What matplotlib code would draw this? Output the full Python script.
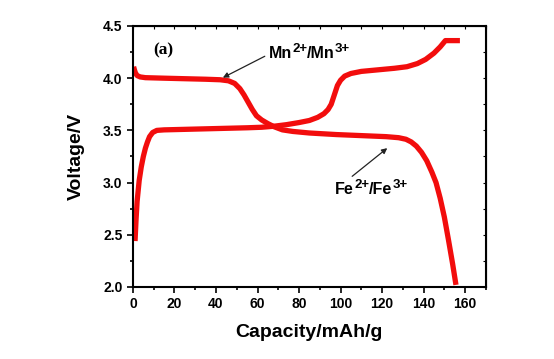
import numpy as np
import matplotlib.pyplot as plt
from matplotlib.ticker import MultipleLocator
from matplotlib.font_manager import FontProperties

# charge curve (Fe2+ -> Fe3+ then Mn2+ -> Mn3+)
cap_charge = [1.0, 1.5, 2.0, 3.0, 4.0, 5.0, 6.0, 7.0, 8.0, 9.5, 11.5, 15, 25, 35, 45,
              55, 62, 68, 74, 80, 85, 89, 92, 94, 95.5, 96.5, 97.5, 98.5, 100, 102,
              105, 110, 118, 126, 132, 137, 141, 145, 148, 150.5, 157.5]
v_charge = [2.44, 2.65, 2.82, 3.02, 3.15, 3.25, 3.33, 3.39, 3.44, 3.48, 3.50, 3.505,
            3.51, 3.515, 3.52, 3.525, 3.53, 3.54, 3.555, 3.575, 3.595, 3.625, 3.66,
            3.70, 3.75, 3.81, 3.87, 3.93, 3.98, 4.02, 4.045, 4.065, 4.08, 4.095,
            4.11, 4.14, 4.18, 4.24, 4.30, 4.36, 4.36]

# discharge curve (Mn3+ -> Mn2+ then Fe3+ -> Fe2+)
cap_dis = [0.3, 0.7, 1.2, 2.0, 3.5, 6, 15, 25, 35, 42, 46, 49, 51.5, 53.5, 55.5,
           57.5, 59.5, 62, 65, 68, 72, 77, 85, 98, 110, 122, 128, 131.5, 134, 136.5,
           139, 141.5, 144, 146, 148, 150, 152, 154, 155.6]
v_dis = [4.11, 4.08, 4.05, 4.025, 4.012, 4.005, 4.0, 3.995, 3.99, 3.985, 3.975, 3.95,
         3.90, 3.84, 3.77, 3.70, 3.64, 3.60, 3.565, 3.535, 3.505, 3.49, 3.475, 3.46,
         3.45, 3.44, 3.43, 3.415, 3.39, 3.35, 3.29, 3.21, 3.10, 3.00, 2.85, 2.67,
         2.45, 2.22, 2.02]

plt.rcParams['font.family'] = ['Liberation Sans', 'DejaVu Sans']
plt.rcParams['font.weight'] = 'bold'


def ion_label(ax, x, y, parts, size=11.5, sup_size=9.5):
    # parts: list of (text, is_superscript); superscripts drawn at a raised offset
    base = ax.text(x, y, parts[0][0], fontsize=size, fontweight='bold',
                   ha='left', va='bottom')
    prev = base
    for txt, sup in parts[1:]:
        if sup:
            prev = ax.annotate(txt, xy=(1, 0.42), xycoords=(prev, base),
                               fontsize=sup_size, fontweight='bold',
                               ha='left', va='bottom')
        else:
            prev = ax.annotate(txt, xy=(1, 0), xycoords=(prev, base),
                               fontsize=size, fontweight='bold',
                               ha='left', va='bottom')
    return base


fig = plt.figure(figsize=(5.54, 3.59), dpi=100)
ax = fig.add_axes([0.240, 0.2006, 0.637, 0.727])

red = '#f20d0d'
ax.plot(cap_charge, v_charge, color=red, linewidth=3.8, solid_capstyle='butt',
        solid_joinstyle='round')
ax.plot(cap_dis, v_dis, color=red, linewidth=3.8, solid_capstyle='butt',
        solid_joinstyle='round')

ax.set_xlim(0, 170)
ax.set_ylim(2.0, 4.5)
ax.xaxis.set_major_locator(MultipleLocator(20))
ax.xaxis.set_minor_locator(MultipleLocator(10))
ax.yaxis.set_major_locator(MultipleLocator(0.5))
ax.yaxis.set_minor_locator(MultipleLocator(0.25))
ax.tick_params(which='both', direction='out', width=1.2, labelsize=10,
               top=False, right=False)
ax.tick_params(which='major', length=4)
ax.tick_params(which='minor', length=2.5)
for lab in ax.get_xticklabels() + ax.get_yticklabels():
    lab.set_fontweight('bold')
for s in ax.spines.values():
    s.set_linewidth(1.5)

# small inner ticks on top and right
sec_x = ax.secondary_xaxis('top')
sec_x.xaxis.set_major_locator(MultipleLocator(20))
sec_x.xaxis.set_minor_locator(MultipleLocator(10))
sec_x.tick_params(which='both', direction='in', length=2, width=0.8, labeltop=False)
sec_y = ax.secondary_yaxis('right')
sec_y.yaxis.set_major_locator(MultipleLocator(0.5))
sec_y.yaxis.set_minor_locator(MultipleLocator(0.25))
sec_y.tick_params(which='both', direction='in', length=2, width=0.8, labelright=False)

ax.set_xlabel('Capacity/mAh/g', fontsize=14, fontweight='bold', labelpad=9)
ax.set_ylabel('Voltage/V', fontsize=14, fontweight='bold', labelpad=13)

serif_bold = FontProperties(family='Liberation Serif', weight='bold', size=12.5)
ax.text(14.5, 4.27, '(a)', fontproperties=serif_bold, ha='center', va='center')

ion_label(ax, 65.5, 4.16, [('Mn', False), ('2+', True), ('/Mn', False), ('3+', True)])
ax.annotate('', xy=(43.3, 4.005), xytext=(63.5, 4.21),
            arrowprops=dict(arrowstyle='-|>', color='#222222', lw=0.9,
                            shrinkA=0, shrinkB=0, mutation_scale=8))

ion_label(ax, 97.5, 2.86, [('Fe', False), ('2+', True), ('/Fe', False), ('3+', True)])
ax.annotate('', xy=(122.5, 3.33), xytext=(105.6, 3.06),
            arrowprops=dict(arrowstyle='-|>', color='#222222', lw=0.9,
                            shrinkA=0, shrinkB=0, mutation_scale=8))

fig.savefig('out.png', dpi=100)
